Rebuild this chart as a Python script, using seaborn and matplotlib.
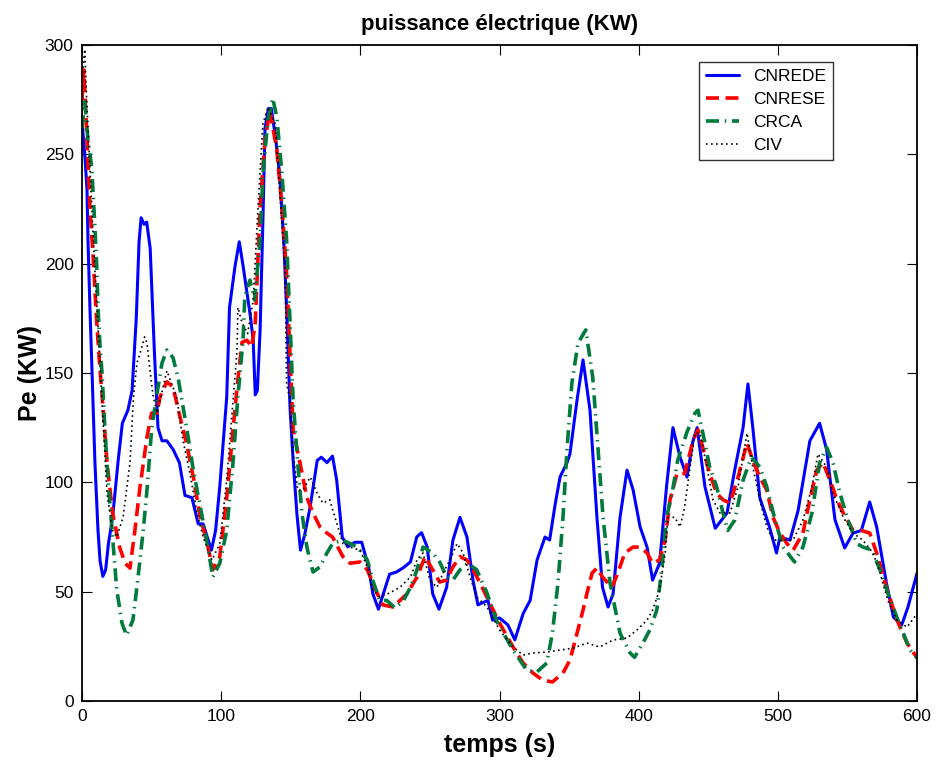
import numpy as np
import pandas as pd
import matplotlib
matplotlib.use("Agg")
import matplotlib.pyplot as plt
import seaborn as sns

sns.set_theme(style="ticks")
plt.rcParams['font.family'] = ['Liberation Sans', 'DejaVu Sans']
plt.rcParams['text.color'] = 'black'
plt.rcParams['axes.labelcolor'] = 'black'
plt.rcParams['xtick.color'] = 'black'
plt.rcParams['ytick.color'] = 'black'

# CNREDE
t_b = [0, 2, 3.6, 4.3, 5.7, 7, 9.3, 11.5, 13, 15, 17, 19, 22, 26, 29, 33, 36, 39, 41, 42.5,
       44.6, 46.5, 49, 52, 54.6, 57.5, 61, 65.5, 70, 74, 79, 83.5, 87, 90, 93, 96, 99, 104, 106, 110,
       113, 115.5, 118.5, 121, 123, 124.5, 126, 128, 130, 131.5, 134, 136, 139, 142, 145, 147, 149.5, 151.7, 154.5, 157,
       160, 164, 169, 172, 176, 180, 183, 187, 191, 196, 201, 206, 209, 213, 218, 221, 226, 231, 236, 240.5,
       244, 248, 252, 256.5, 262, 266.5, 271.6, 276.6, 281, 284.5, 288, 291.7, 295, 300, 306, 311, 317, 322, 327, 332.7,
       336, 340, 343.5, 348.5, 350.6, 355.7, 360, 365, 370, 374, 378, 381.6, 386.6, 391.6, 396, 401, 406, 410, 415, 420,
       424.6, 429.7, 434.7, 439, 442, 447.6, 455, 463.5, 469, 475, 478.5, 482, 487, 494, 499, 501.5, 508.7, 514.5, 523, 530,
       535, 541, 548, 554, 560, 566, 571, 578, 583, 589, 593.5, 600]
cnrede = [265, 250, 234, 211, 180, 155, 109, 78, 64, 57, 60, 72, 84, 110, 127, 133, 142, 175, 210, 221,
          218, 219, 207, 160, 125, 119, 119, 115, 109, 94, 93, 81, 81, 75, 69, 78, 98, 139, 180, 199,
          210, 200, 187, 176, 165, 140, 142, 170, 220, 262, 271, 271, 258, 241, 210, 180, 134, 110, 85, 69,
          76, 89, 110, 111.5, 109, 112, 101, 75, 70.5, 72.6, 72.6, 61, 49, 42, 52, 58, 59, 61, 63.6, 75,
          77, 70.5, 49, 42, 52, 73.5, 84, 75, 55, 44, 45, 46, 37, 38, 34.8, 28, 40, 46, 64.5, 75,
          73.6, 90, 102.5, 109, 113, 137.6, 156, 133, 84, 52, 43, 49, 84, 105.6, 96.5, 79.6, 70.4, 55.3, 63, 98,
          125, 111.6, 102.4, 119, 125, 98, 79, 86, 105.6, 125, 145, 125, 93, 79.6, 67.7, 75, 73.6, 87, 119, 127,
          115, 83, 70, 76.8, 78, 91, 79.6, 54, 38.4, 34.8, 43, 58.5]

# CNRESE
t_r = [0, 1.4, 3.6, 5.7, 8, 10.6, 13, 15, 18, 22, 27, 31, 34.5, 38, 41.7, 46.7, 50, 54, 56, 61,
       65.4, 70.4, 75, 80, 85, 90, 94, 99, 104, 108.5, 112, 115, 118.5, 122, 124.5, 128, 131.5, 135, 140, 143.7,
       147, 151.7, 156.6, 161.6, 166, 171, 176, 180, 187.5, 192.6, 199.8, 205, 212, 216, 223.5, 228.5, 233.5, 240.7, 246.5, 252,
       257, 262, 266.5, 271.6, 276.6, 281, 286, 293, 300, 309.7, 317, 324, 331, 338, 345.6, 350.6, 355.7, 360, 362.9, 366.5,
       370, 374, 380.8, 385, 390, 396, 401, 406, 410, 415, 419, 422.5, 427.5, 433, 439, 442.6, 446, 451, 456, 460.6,
       465.6, 471.4, 477.8, 482, 487, 492, 496.5, 501.5, 506.5, 511, 518, 523, 528, 532.4, 537.5, 542.5, 547, 554, 560, 566,
       571, 578, 585.6, 592.8, 600]
cnrese = [275, 288.6, 256.5, 226, 203, 173, 151, 135, 109, 86, 70.4, 63, 60.8, 78, 98, 120.7, 131.7, 131.7, 139, 146,
          143.6, 130, 118, 102.4, 84, 72, 60, 66, 93, 124, 147, 164, 165, 162, 173, 226, 256.5, 270, 252, 226,
          196, 124, 109, 93, 86, 79.6, 76.8, 75, 66, 63, 63.6, 60, 49.4, 44, 43, 46, 49, 56.7, 66, 60,
          54.4, 55.3, 61.3, 66, 64.5, 60, 54, 44.8, 35.7, 24.7, 17.4, 12.8, 9.6, 8.7, 12.8, 18.7, 31, 41.6, 49.4, 58.5,
          60.8, 56.7, 52, 58.5, 67.7, 70.4, 70.4, 67.7, 63, 64.5, 73.6, 92, 104, 104, 119, 124, 116, 104, 95, 92,
          90.5, 102.4, 118, 110, 102.4, 96.5, 84, 76.8, 72, 69, 76.8, 92, 105.6, 109, 101, 92, 86, 78, 78, 76.8,
          67.7, 52, 37, 26.5, 19.7]

# CRCA
t_g = [0, 2, 4.3, 7, 8, 9.3, 10.6, 11.5, 13, 14.4, 16.5, 18.7, 21.6, 25, 28.7, 32, 36.6, 40, 44, 46.7,
       50, 54, 57.5, 61, 65.4, 69, 75.4, 80, 85, 90, 94, 99, 104, 108.5, 112, 115.7, 117, 120.7, 124, 128,
       130, 133.6, 137, 140, 143.7, 147, 149.5, 151.7, 155, 158, 161.6, 166, 171, 176, 180, 187, 192.6, 198, 205, 209,
       214, 219, 225, 231, 236, 240.7, 245, 252, 257, 262, 266.5, 271.6, 277, 283.6, 291, 298, 309.7, 319.7, 326.9, 334,
       338, 342, 345.6, 348.5, 352, 356.4, 362, 367, 370.8, 374.4, 379.4, 386.6, 393.8, 397, 403, 408, 413, 416.8, 420, 424,
       428, 434.7, 440.5, 442.6, 447.6, 451, 456, 460.6, 464, 469, 475, 481, 487, 492, 498, 503.7, 512, 518, 524.5, 530,
       535, 539.6, 544.6, 550.4, 556.7, 561.2, 567.6, 573.4, 579, 586.3, 595, 600]
crca = [262, 274, 256.5, 244, 232, 216.7, 198.5, 180, 162, 150, 124, 101, 78, 50.8, 35.7, 30, 37, 55, 78, 96.5,
        124, 141, 154.6, 160.5, 157, 148, 124, 105.6, 88.7, 72, 56.7, 63, 78, 109, 139, 165, 185, 192.5, 183.4, 211,
        241, 265.7, 275.7, 267, 241, 211, 173, 137.6, 109, 86, 70.4, 59, 61.3, 67.7, 72, 73.6, 72, 70.4, 64.5, 55,
        46, 46, 42.5, 46, 52, 60, 70.4, 67.7, 63.6, 56.7, 55.3, 60, 63, 60, 49.4, 36.5, 23.3, 14, 13.3, 17.4,
        31, 54, 84, 115, 145.4, 163.7, 169.7, 148, 115, 84, 54, 31, 22, 20, 26.5, 32.5, 41.6, 61.3, 84, 95,
        110, 123, 131.7, 133, 118, 107, 98, 86, 78, 82.7, 101, 111.6, 107, 98, 82.7, 70.4, 63.6, 70.4, 86, 109,
        116, 109, 95, 82.7, 72, 70.4, 69, 60, 49.4, 37, 23.3, 19.7]

# CIV
t_k = [0, 2, 3, 6, 9, 12, 15, 18, 22, 25, 29.5, 34.5, 37, 39.5, 41.7, 45, 46.7, 48, 51, 54,
       57, 61, 68, 72.6, 77.6, 82.6, 87, 93.4, 99, 104, 107.8, 111.4, 112, 115, 119, 123, 126.5, 130, 133.7, 138.7,
       142, 146, 147, 149.5, 151.7, 155, 158.8, 164, 169, 173, 178, 183, 187.5, 192.6, 199.8, 205, 209, 214, 221, 228.5,
       236, 240.7, 245, 250, 255, 259.4, 264.4, 269.5, 273.8, 278.8, 283.8, 291, 300, 309.7, 317, 324, 334, 343.5, 353, 362.9,
       372, 381.6, 391.6, 398.8, 406, 410, 415, 419, 421, 426, 429.7, 433, 436.9, 440.5, 444, 449, 453.4, 458.4, 465.6, 471.4,
       477.8, 482, 487, 492, 496.5, 503.7, 511, 518, 524.5, 528.8, 535, 539.6, 547, 554, 561, 568.4, 573.4, 579, 585.6, 592.8,
       600]
civ = [285, 298, 280, 240, 200, 165, 130, 95, 78, 75, 84, 109, 139, 154.6, 159, 166.5, 163.7, 156, 140, 131.7,
       140, 151, 139, 119, 104, 86, 75, 64.5, 72, 101, 131.7, 160, 180, 173, 168, 183, 226, 264, 271.6, 264,
       233.7, 196, 145, 137.6, 113, 96.5, 96.5, 102.4, 95, 90.5, 92, 81.4, 72, 70.4, 69, 61.3, 50.8, 47.5, 49.4, 52,
       56.7, 64.5, 67.7, 55.3, 52, 58.5, 64.5, 72, 67.7, 56.7, 47.5, 43, 32.5, 24.7, 21, 22, 22.4, 23.3, 24.2, 26.5,
       24.7, 27.9, 28.8, 32.5, 37, 41.6, 50.8, 67.7, 84, 84, 79.6, 88.7, 107, 122.5, 122.5, 107, 92, 86, 86, 98,
       122.5, 107, 92, 79.6, 73.6, 73.6, 73.6, 82.7, 98, 113, 107, 95, 84, 76.8, 73.6, 67.7, 58.5, 46, 37, 33.8,
       40]

series = [
    ("CNREDE", t_b, cnrede, dict(color="#0000FF", lw=2.2, ls="-")),
    ("CNRESE", t_r, cnrese, dict(color="#FF0000", lw=2.6, ls=(0, (3.6, 1.8)))),
    ("CRCA", t_g, crca, dict(color="#007A3D", lw=2.6, ls=(0, (3.6, 1.6, 0.4, 1.6)))),
    ("CIV", t_k, civ, dict(color="black", lw=1.2, ls=(0, (1, 2)))),
]

fig = plt.figure(figsize=(9.37, 7.6), dpi=100)
ax = fig.add_axes([0.0875, 0.0776, 0.8912, 0.8632])

for name, t, y, st in series:
    df = pd.DataFrame({"t": t, "y": y})
    sns.lineplot(data=df, x="t", y="y", ax=ax, sort=False, color=st["color"],
                 linewidth=st["lw"], linestyle=st["ls"], label=name)

ax.set_xlim(0, 600)
ax.set_ylim(0, 300)
ax.set_xticks(range(0, 601, 100))
ax.set_yticks(range(0, 301, 50))
ax.tick_params(direction="in", top=True, right=True, labelsize=12.5, length=7, width=0.8, pad=6)
for s in ax.spines.values():
    s.set_linewidth(1.3)
    s.set_color("black")

ax.set_title("puissance électrique (KW)", fontsize=16, fontweight="bold", pad=11, color="black")
ax.set_xlabel("temps (s)", fontsize=18, fontweight="bold", labelpad=6)
ax.set_ylabel("Pe (KW)", fontsize=18, fontweight="bold", labelpad=2)

leg = ax.legend(loc="upper right", bbox_to_anchor=(0.8994, 0.974), fontsize=12.5, frameon=True,
                fancybox=False, edgecolor="black", handlelength=1.9, borderpad=0.4,
                labelspacing=0.45, handletextpad=0.8, borderaxespad=0)
leg.get_frame().set_linewidth(1.0)
for txt in leg.get_texts():
    txt.set_color("black")

fig.savefig("out.png", dpi=100)
